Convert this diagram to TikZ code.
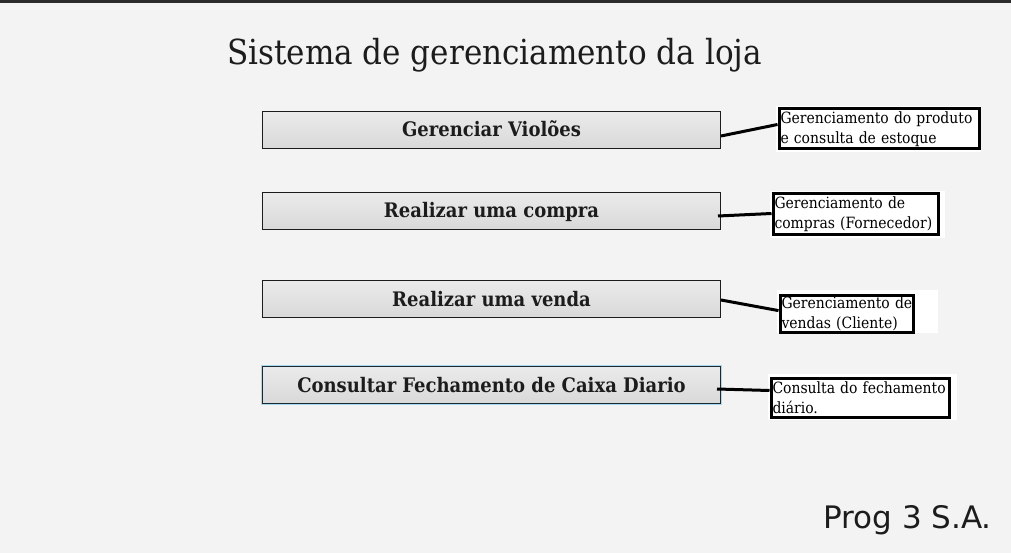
\documentclass[tikz,border=0pt]{standalone}
\usepackage{fontspec}
\setmainfont{DejaVu Serif Condensed}
\newfontfamily\sansf{DejaVu Sans}
\usetikzlibrary{calc}
\definecolor{bg}{HTML}{F3F3F3}
\definecolor{topbar}{HTML}{2B2B2B}
\definecolor{ink}{HTML}{1C1C1C}
\definecolor{glow}{HTML}{A8D8EE}
\definecolor{darkblue}{HTML}{1A2A33}
\tikzset{
  mainbox/.style={draw=ink, line width=1pt, top color=white!92!black, bottom color=white!85!black,
    minimum width=458pt, minimum height=37pt, inner sep=0pt, text=ink, text height=14pt, text depth=0pt,
    font=\fontsize{20}{22}\selectfont\bfseries},
  lbl/.style={draw=black, line width=3pt, fill=white, inner xsep=1.5pt, inner ysep=1.5pt,
    align=left, anchor=north west, text=black, font=\fontsize{15.5}{20}\selectfont},
  link/.style={draw=black, line width=3pt}
}
\begin{document}
\begin{tikzpicture}[x=1pt,y=-1pt]
\useasboundingbox (0,0) rectangle (1011,553);
\fill[bg] (0,0) rectangle (1011,553);
\fill[topbar] (0,0) rectangle (1011,3);
\node[anchor=base west, inner sep=0pt, text=ink, font=\fontsize{34.5}{38}\selectfont] (title) at (227,65) {Sistema de gerenciamento da loja};
\node[mainbox] (b1) at (491.5,130) {Gerenciar Violões};
\node[mainbox] (b2) at (491.5,211) {Realizar uma compra};
\node[mainbox] (b3) at (491.5,299) {Realizar uma venda};
\node[mainbox, draw=darkblue, preaction={draw=glow, line width=3pt}] (b4) at (491.5,385) {Consultar Fechamento de Caixa Diario};
% white areas behind labels
\fill[white] (776,106) rectangle (981,152);
\fill[white] (770,191) rectangle (945,238);
\fill[white] (777,290) rectangle (938,333);
\fill[white] (768,374) rectangle (957,420);
\node[lbl, text width=197pt, minimum height=40pt] (l1) at (777.5,107.5) {\makebox[\linewidth][s]{Gerenciamento do produto}\\e consulta de estoque};
\node[lbl, text width=162pt, minimum height=41pt] (l2) at (771.5,192.5) {\mbox{Gerenciamento de}\\\mbox{compras (Fornecedor)}};
\node[lbl, text width=130pt, minimum height=35pt] (l3) at (778.5,293.5) {\makebox[\linewidth][l]{Gerenciamento de}\\\mbox{vendas (Cliente)}};
\node[lbl, text width=175pt, minimum height=39pt] (l4) at (769.5,376.5) {\makebox[\linewidth][s]{Consulta do fechamento}\\diário.};
\draw[link] ([yshift=-6pt]b1.east) -- ([yshift=4.5pt]l1.west);
\draw[link] ([xshift=-3pt,yshift=-5pt]b2.east) -- ([yshift=1pt]l2.west);
\draw[link] ([yshift=-1pt]b3.east) -- ([yshift=3pt]l3.west);
\draw[link] ([xshift=-4pt,yshift=-4pt]b4.east) -- ([yshift=7pt]l4.west);
\node[anchor=base east, inner sep=0pt, text=ink, font=\sansf\fontsize{31}{34}\selectfont] (prog) at (992,528) {Prog 3 S.A.};
\end{tikzpicture}
\end{document}
